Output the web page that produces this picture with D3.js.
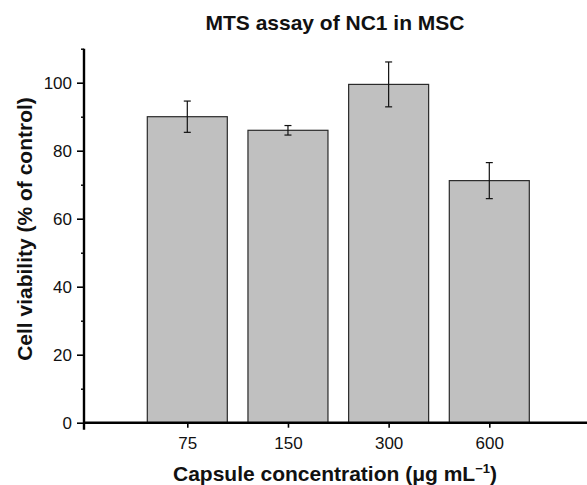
<!DOCTYPE html>
<html><head><meta charset="utf-8">
<script src="https://cdn.jsdelivr.net/npm/d3@7"></script>
<style>body{margin:0;background:#fff}svg{display:block;font-family:"Liberation Sans",Arial,sans-serif}</style>
</head><body>
<svg id="c" width="587" height="485"></svg>
<script>
const categories = ["75", "150", "300", "600"];
const values = [90.0, 86.0, 99.5, 71.2];
const errors = [4.6, 1.4, 6.6, 5.3];
const yTicks = [0, 20, 40, 60, 80, 100];
const yMinorTicks = [10, 30, 50, 70, 90, 110];

const svg = d3.select("#c");
const x0 = 84, x1 = 587;
const y = d3.scaleLinear().domain([0, 110]).range([422.7, 48.7]);
const x = d3.scaleLinear().domain([0, 3]).range([187.3, 489.3]);
const bw = 80;

// bars
svg.append("g").selectAll("rect").data(values).join("rect")
  .attr("x", (d, i) => x(i) - bw / 2)
  .attr("width", bw)
  .attr("y", d => y(d))
  .attr("height", d => y(0) - y(d))
  .attr("fill", "#c0c0c0")
  .attr("stroke", "#2a2a2a")
  .attr("stroke-width", 1.2);

// error bars
const eb = svg.append("g").attr("stroke", "#111").attr("stroke-width", 1.2);
values.forEach((v, i) => {
  const cx = x(i);
  eb.append("line").attr("x1", cx).attr("x2", cx).attr("y1", y(v + errors[i])).attr("y2", y(v - errors[i]));
  eb.append("line").attr("x1", cx - 3.5).attr("x2", cx + 3.5).attr("y1", y(v + errors[i])).attr("y2", y(v + errors[i]));
  eb.append("line").attr("x1", cx - 3.5).attr("x2", cx + 3.5).attr("y1", y(v - errors[i])).attr("y2", y(v - errors[i]));
});

// y axis
const ya = svg.append("g").attr("transform", `translate(${x0},0)`)
  .call(d3.axisLeft(y).tickValues(yTicks).tickSize(7).tickPadding(5).tickFormat(d3.format("d")));
ya.select(".domain").remove();
ya.selectAll(".tick line").attr("stroke", "#000").attr("stroke-width", 1.6);
ya.selectAll(".tick text").attr("font-size", 17).attr("fill", "#111").attr("font-family", "Liberation Sans, Arial, sans-serif");
const yam = svg.append("g").attr("transform", `translate(${x0},0)`)
  .call(d3.axisLeft(y).tickValues(yMinorTicks).tickSize(3).tickFormat(""));
yam.select(".domain").remove();
yam.selectAll(".tick line").attr("stroke", "#000").attr("stroke-width", 1.4);
svg.append("line").attr("x1", x0).attr("x2", x0).attr("y1", y(110)).attr("y2", y(0) + 7)
  .attr("stroke", "#000").attr("stroke-width", 2.4);

// x axis
const xa = svg.append("g").attr("transform", `translate(0,${y(0)})`)
  .call(d3.axisBottom(x).tickValues([0, 1, 2, 3]).tickSize(5).tickPadding(9).tickFormat(i => categories[i]));
xa.select(".domain").remove();
xa.selectAll(".tick line").attr("stroke", "#000").attr("stroke-width", 1.6);
xa.selectAll(".tick text").attr("font-size", 17).attr("fill", "#111").attr("font-family", "Liberation Sans, Arial, sans-serif");
svg.append("line").attr("x1", x0 - 1).attr("x2", x1).attr("y1", y(0)).attr("y2", y(0))
  .attr("stroke", "#000").attr("stroke-width", 2.4);

// title
svg.append("text").attr("x", 335).attr("y", 30).attr("text-anchor", "middle")
  .attr("font-size", 21).attr("font-weight", "bold").attr("fill", "#111")
  .text("MTS assay of NC1 in MSC");

// y label
svg.append("text").attr("transform", "translate(32,229) rotate(-90)").attr("text-anchor", "middle")
  .attr("font-size", 21).attr("font-weight", "bold").attr("fill", "#111")
  .text("Cell viability (% of control)");

// x label
const xl = svg.append("text").attr("x", 335).attr("y", 481).attr("text-anchor", "middle")
  .attr("font-size", 21).attr("font-weight", "bold").attr("fill", "#111");
xl.append("tspan").text("Capsule concentration (μg mL");
xl.append("tspan").attr("dy", -8).attr("font-size", 13).text("−1");
xl.append("tspan").attr("dy", 8).text(")");
</script>
</body></html>
